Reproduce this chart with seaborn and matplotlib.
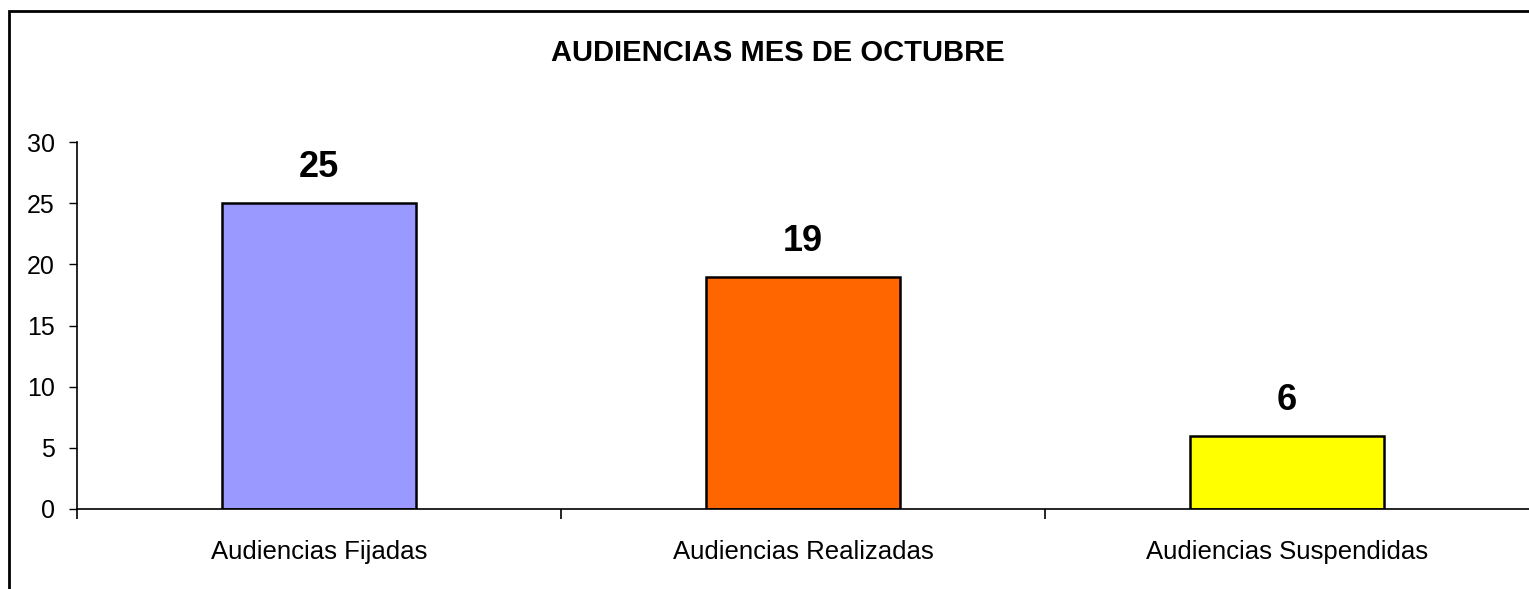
import pandas as pd
import seaborn as sns
import matplotlib.pyplot as plt
from matplotlib.patches import Rectangle

sns.set_style("white")
plt.rcParams["font.family"] = ["Liberation Sans", "DejaVu Sans"]
plt.rcParams.update({
    "text.color": "black",
    "xtick.color": "black",
    "ytick.color": "black",
    "xtick.labelcolor": "black",
    "ytick.labelcolor": "black",
})

categorias = ["Audiencias Fijadas", "Audiencias Realizadas", "Audiencias Suspendidas"]
valores = [25, 19, 6]
colores = ["#9999FF", "#FF6600", "#FFFF00"]
y_ticks = [0, 5, 10, 15, 20, 25, 30]

df = pd.DataFrame({"Categoria": categorias, "Valor": valores})

fig = plt.figure(figsize=(15.29, 5.89), dpi=100)
ax = fig.add_axes([77 / 1529, 1 - 509 / 589, 1 - 77 / 1529, (509 - 142) / 589])

sns.barplot(
    data=df, x="Categoria", y="Valor", hue="Categoria", palette=colores,
    saturation=1, legend=False, width=0.4, edgecolor="black", linewidth=1.8, ax=ax
)

for cont in ax.containers:
    ax.bar_label(cont, fontsize=26, fontweight="bold", padding=13, color="black")

ax.set_xlim(-0.5, 2.5)
ax.set_ylim(0, 30)
ax.set_yticks(y_ticks)
ax.set_xlabel("")
ax.set_ylabel("")

ax.tick_params(axis="y", which="major", direction="out", length=6, width=1,
               pad=10, labelsize=18, left=True)
ax.tick_params(axis="x", which="major", length=0, pad=22, labelsize=18.5)
ax.set_xticks([-0.5, 0.5, 1.5], minor=True)
ax.tick_params(axis="x", which="minor", direction="out", length=7, width=1.2,
               bottom=True)

sns.despine(ax=ax, top=True, right=True)
for s in ["left", "bottom"]:
    ax.spines[s].set_linewidth(1.2)
    ax.spines[s].set_color("black")

fig.text(778 / 1529, 1 - 53 / 589, "AUDIENCIAS MES DE OCTUBRE",
         ha="center", va="center", fontsize=21, fontweight="bold")

# marco del grafico (solo se ven los bordes izquierdo y superior)
marco = Rectangle((9 / 1529, -0.1), 1.2, 1.1 - 11 / 589, transform=fig.transFigure,
                  fill=False, edgecolor="black", linewidth=2, clip_on=False)
fig.patches.append(marco)

fig.savefig("out.png", dpi=100)
